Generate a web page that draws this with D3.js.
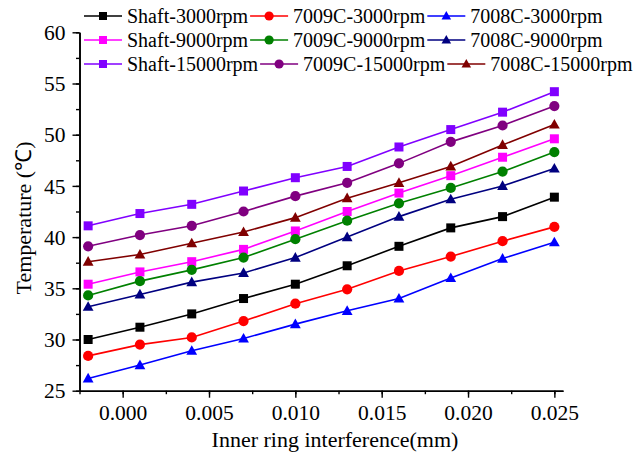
<!DOCTYPE html>
<html><head><meta charset="utf-8">
<script src="https://cdn.jsdelivr.net/npm/d3@7"></script>
<style>
html,body{margin:0;padding:0;background:#fff;}
svg text{font-family:"Liberation Serif","Times New Roman",serif;fill:#000;}
</style></head>
<body><svg id="chart" width="644" height="458"></svg>
<script>
const interference = [-0.002, 0.001, 0.004, 0.007, 0.010, 0.013, 0.016, 0.019, 0.022, 0.025];
const seriesNames = ["Shaft-3000rpm","7009C-3000rpm","7008C-3000rpm",
                     "Shaft-9000rpm","7009C-9000rpm","7008C-9000rpm",
                     "Shaft-15000rpm","7009C-15000rpm","7008C-15000rpm"];
const shaft3000  = [30.0, 31.2, 32.5, 34.0, 35.4, 37.2, 39.1, 40.9, 42.0, 43.9];
const c7009_3000 = [28.4, 29.5, 30.2, 31.8, 33.5, 34.9, 36.7, 38.1, 39.6, 41.0];
const c7008_3000 = [26.2, 27.5, 28.9, 30.1, 31.5, 32.8, 34.0, 36.0, 37.9, 39.5];
const shaft9000  = [35.4, 36.6, 37.6, 38.8, 40.6, 42.5, 44.3, 46.0, 47.8, 49.6];
const c7009_9000 = [34.3, 35.7, 36.8, 38.0, 39.8, 41.6, 43.3, 44.8, 46.4, 48.3];
const c7008_9000 = [33.2, 34.4, 35.6, 36.5, 38.0, 40.0, 42.0, 43.7, 45.0, 46.7];
const shaft15000 = [41.1, 42.3, 43.2, 44.5, 45.8, 46.9, 48.8, 50.5, 52.2, 54.2];
const c7009_15000= [39.1, 40.2, 41.1, 42.5, 44.0, 45.3, 47.2, 49.3, 50.9, 52.8];
const c7008_15000= [37.6, 38.3, 39.4, 40.5, 41.9, 43.8, 45.3, 46.9, 49.0, 51.0];
const seriesValues = [shaft3000,c7009_3000,c7008_3000,shaft9000,c7009_9000,c7008_9000,shaft15000,c7009_15000,c7008_15000];
const seriesColors = ["#000000","#ff0000","#0000ff","#ff00ff","#008000","#000080","#8000ff","#800080","#800000"];
const seriesShapes = ["square","circle","triangle","square","circle","triangle","square","circle","triangle"];
const xTickValues = [0.000, 0.005, 0.010, 0.015, 0.020, 0.025];
const yTickValues = [25, 30, 35, 40, 45, 50, 55, 60];
const xTitle = "Inner ring interference(mm)";
const yTitle = "Temperature (\u2103)";

const svg = d3.select("#chart");
const x = d3.scaleLinear().domain([-0.0025, 0.0255]).range([79.5, 563]);
const y = d3.scaleLinear().domain([25, 60]).range([390.7, 32.3]);

const FS = 20, TFS = 21.5, TITLE = 22;
// X axis
const xAxisG = svg.append("g").attr("transform", `translate(0,${y(25)})`);
xAxisG.call(d3.axisBottom(x).tickValues(d3.range(-0.0025, 0.0256, 0.0025)).tickFormat("").tickSize(3.5).tickSizeOuter(0));
xAxisG.append("g").call(d3.axisBottom(x).tickValues(xTickValues).tickFormat(d3.format(".3f")).tickSize(7).tickSizeOuter(0));
xAxisG.selectAll(".domain").attr("stroke","#000").attr("stroke-width",1.6);
xAxisG.selectAll("line").attr("stroke","#000").attr("stroke-width",1.4);
xAxisG.selectAll("text").attr("font-size",TFS).attr("y",null).attr("dy",null)
  .attr("transform","translate(0,29)").style("font-family",'"Liberation Serif",serif');
xAxisG.attr("font-family",null).attr("font-size",null);

// Y axis
const yAxisG = svg.append("g").attr("transform", `translate(${x(-0.0025)},0)`);
yAxisG.call(d3.axisLeft(y).tickValues(d3.range(25, 60.1, 2.5)).tickFormat("").tickSize(3.5).tickSizeOuter(0));
yAxisG.append("g").call(d3.axisLeft(y).tickValues(yTickValues).tickFormat(d3.format("d")).tickSize(7).tickSizeOuter(0));
yAxisG.selectAll(".domain").attr("stroke","#000").attr("stroke-width",1.6);
yAxisG.selectAll("line").attr("stroke","#000").attr("stroke-width",1.4);
yAxisG.selectAll("text").attr("font-size",TFS).attr("x",-14).attr("dy","0.33em").style("font-family",'"Liberation Serif",serif');
yAxisG.attr("font-family",null).attr("font-size",null);

// titles
svg.append("text").attr("x",335).attr("y",447).attr("text-anchor","middle").attr("font-size",TITLE).text(xTitle);
svg.append("text").attr("transform","translate(31,218) rotate(-90)").attr("text-anchor","middle").attr("font-size",TITLE).text(yTitle);

function drawMarker(g, shape, color, cx, cy, s){
  if(shape==="square"){
    g.append("rect").attr("x",cx-s/2).attr("y",cy-s/2).attr("width",s).attr("height",s).attr("fill",color);
  } else if(shape==="circle"){
    g.append("circle").attr("cx",cx).attr("cy",cy).attr("r",s/2+0.6).attr("fill",color);
  } else {
    const h = s*1.0, w = s*1.2;
    g.append("path").attr("d",`M${cx},${cy-h*0.62}L${cx+w/2},${cy+h*0.45}L${cx-w/2},${cy+h*0.45}Z`).attr("fill",color);
  }
}

const line = d3.line().x(d=>x(d[0])).y(d=>y(d[1]));
seriesValues.forEach((vals,i)=>{
  const pts = interference.map((xv,j)=>[xv, vals[j]]);
  const g = svg.append("g");
  g.append("path").attr("d", line(pts)).attr("fill","none").attr("stroke",seriesColors[i]).attr("stroke-width",1.6);
  pts.forEach(p=>drawMarker(g, seriesShapes[i], seriesColors[i], x(p[0]), y(p[1]), 9));
});

// legend
const legendRows = [[0,1,2],[3,4,5],[6,7,8]];
const rowY = [16, 40, 64];
const leg = svg.append("g");
legendRows.forEach((row, r)=>{
  let cx = 84;
  row.forEach((si, c)=>{
    const lineLen = 38;
    leg.append("line").attr("x1",cx).attr("x2",cx+lineLen).attr("y1",rowY[r]).attr("y2",rowY[r])
      .attr("stroke",seriesColors[si]).attr("stroke-width",1.6);
    drawMarker(leg, seriesShapes[si], seriesColors[si], cx+lineLen/2, rowY[r], 8);
    const t = leg.append("text").attr("x",cx+lineLen+5).attr("y",rowY[r]).attr("dy","0.33em")
      .attr("font-size",FS).text(seriesNames[si]);
    const w = t.node().getComputedTextLength();
    cx = cx + lineLen + 5 + w + 2;
  });
});
</script></body></html>
